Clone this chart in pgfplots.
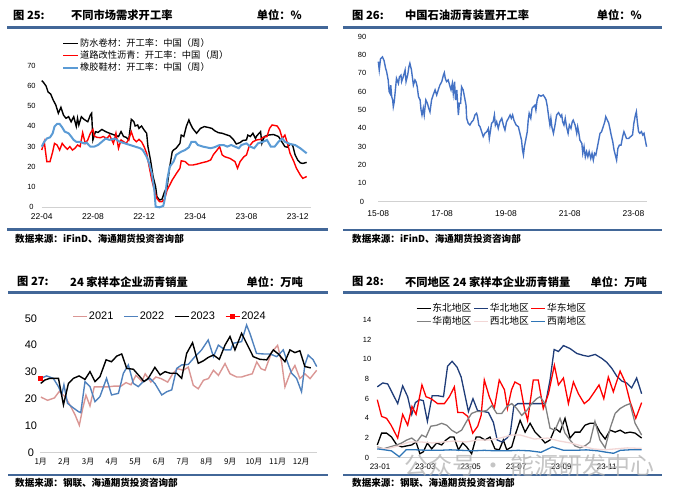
\documentclass[border=0pt]{standalone}
\usepackage{pgfplots}
\pgfplotsset{compat=1.18}
\usepackage{fontspec}
\setmainfont{Liberation Sans}
\newfontfamily\cjk{Noto Sans CJK SC}
\definecolor{sepblue}{RGB}{66,103,152}
\definecolor{lblue}{RGB}{91,155,213}
\definecolor{mblue}{RGB}{68,114,196}
\definecolor{pink21}{RGB}{218,150,148}
\definecolor{blue22}{RGB}{79,129,189}
\definecolor{navy}{RGB}{31,60,120}
\definecolor{swblue}{RGB}{46,117,182}
\definecolor{nwpink}{RGB}{242,215,214}
\newcommand\fs[1]{\fontsize{#1}{#1}\selectfont}
\pgfplotsset{
  base/.style={scale only axis, clip=false, enlargelimits=false,
    axis x line*=bottom, axis y line*=left,
    y axis line style={draw=none},
    x axis line style={draw=black!18, line width=0.8bp},
    major tick length=0pt, tick style={draw=none},
    /pgf/number format/assume math mode=true,
    /pgf/number format/1000 sep={},
    legend cell align=left,
  },
}
\begin{document}
\begin{tikzpicture}
\path[use as bounding box] (0,0) rectangle (700bp,-503bp);
% ---------- separators
\draw[sepblue, line width=2.7bp] (7bp,-27.3bp) -- (328bp,-27.3bp);
\draw[sepblue, line width=2.7bp] (7bp,-229.3bp) -- (328bp,-229.3bp);
\draw[sepblue, line width=2.7bp] (343bp,-27.7bp) -- (662bp,-27.7bp);
\draw[sepblue, line width=2.7bp] (343bp,-230bp) -- (662bp,-230bp);
\draw[sepblue, line width=2.7bp] (8bp,-292.3bp) -- (328bp,-292.3bp);
\draw[sepblue, line width=2.7bp] (8bp,-475bp) -- (328bp,-475bp);
\draw[sepblue, line width=2.7bp] (343bp,-292.3bp) -- (662bp,-292.3bp);
\draw[sepblue, line width=2.7bp] (343bp,-475bp) -- (662bp,-475bp);
% ---------- titles
\begin{scope}[every node/.style={inner sep=0pt, font=\cjk\bfseries\fs{11.3}}]
\node[anchor=west] at (13bp,-15bp) {图 25:};
\node[anchor=west] at (71bp,-15bp) {不同市场需求开工率};
\node[anchor=east] at (302bp,-15bp) {单位：\%};
\node[anchor=west] at (352bp,-15bp) {图 26:};
\node[anchor=west] at (405bp,-15bp) {中国石油沥青装置开工率};
\node[anchor=east] at (642bp,-15bp) {单位：\%};
\node[anchor=west] at (17bp,-281.7bp) {图 27:};
\node[anchor=west] at (70bp,-281.7bp) {24 家样本企业沥青销量};
\node[anchor=east] at (303bp,-281.7bp) {单位：万吨};
\node[anchor=west] at (352bp,-281.7bp) {图 28:};
\node[anchor=west] at (405bp,-281.7bp) {不同地区 24 家样本企业沥青销量};
\node[anchor=east] at (647bp,-281.7bp) {单位：万吨};
\end{scope}
\begin{scope}[every node/.style={inner sep=0pt, font=\cjk\bfseries\fs{9.6}}]
\node[anchor=west] at (15bp,-239.3bp) {数据来源：iFinD、海通期货投资咨询部};
\node[anchor=west] at (352bp,-239.3bp) {数据来源：iFinD、海通期货投资咨询部};
\node[anchor=west] at (15bp,-483.3bp) {数据来源：钢联、海通期货投资咨询部};
\node[anchor=west] at (352bp,-483.3bp) {数据来源：钢联、海通期货投资咨询部};
\end{scope}
% ================= Panel 1
\begin{axis}[base, at={(41.7bp,-207.3bp)}, anchor=south west, width=268.8bp, height=141.6bp,
  xmin=0, xmax=21, ymin=0, ymax=70,
  xtick={0,4,8,12,16,20}, xticklabels={22-04,22-08,22-12,23-04,23-08,23-12},
  ytick={0,10,...,70},
  yticklabel style={anchor=center, xshift=-10.2bp, font=\fs{7.5}},
  xticklabel style={anchor=center, yshift=-9.4bp, font=\fs{8.5}},
  legend style={draw=none, fill=none, at={(axis description cs:0.075,1.197)}, anchor=north west,
    font=\cjk\fs{9.3}, inner sep=0pt, row sep=0.5bp, nodes={inner sep=1bp}},
  legend image code/.code={\draw[#1] (0bp,0bp) -- (15bp,0bp);},
]
\addplot[black, line width=1.4bp] coordinates {
(0,62.6)(0.13,61.8)(0.34,60)(0.5,57)(0.7,56)(0.9,53)(1.1,50.6)(1.3,46.5)(1.5,49.4)(1.7,45.6)(1.9,44)(2.1,44.8)(2.3,42.3)(2.5,44.8)(2.7,40)(2.8,44)(2.9,40.7)(3.1,44.8)(3.3,43.5)(3.6,42.3)(3.8,45.6)(3.9,46.5)(4.0,33.3)(4.2,37.4)(4.4,37)(4.7,38.5)(5.0,37.4)(5.3,36.6)(5.7,35.7)(6.0,35)(6.2,37.4)(6.4,35)(6.6,34.6)(6.8,33.3)(7.0,43.5)(7.2,42.3)(7.3,40.2)(7.5,40.7)(7.6,39)(7.8,40.2)(8.0,38.2)(8.2,36.6)(8.3,30)(8.5,23.4)(8.7,15.2)(8.9,10.2)(9.0,5.3)(9.2,3.6)(9.4,4)(9.6,7.7)(9.8,10.2)(10.0,20)(10.2,27.5)(10.3,28.3)(10.5,29.2)(10.8,31.6)(10.9,35.7)(11.1,35)(11.3,40)(11.5,43.2)(11.6,41.5)(11.8,39)(12.1,36.6)(12.4,39)(12.7,39.9)(13.0,39.5)(13.3,39)(13.5,37.9)(13.8,36.9)(14.1,36.6)(14.5,35.7)(14.7,35.3)(15.0,33.3)(15.2,31.3)(15.5,32)(15.7,33)(16.0,33.3)(16.1,35.7)(16.3,35)(16.5,36.6)(16.7,34)(16.8,35.3)(17.1,37.4)(17.2,31.6)(17.4,35)(17.7,35.7)(18.1,36)(18.5,35)(18.8,32)(19.0,30)(19.2,29.7)(19.4,31.3)(19.6,30.8)(19.8,25.9)(20.0,23.4)(20.2,22)(20.4,21.7)(20.7,22.2)};
\addlegendentry{防水卷材：开工率：中国（周）}
\addplot[red, line width=1.4bp] coordinates {
(0,28.3)(0.2,32.4)(0.4,22.6)(0.65,22.6)(0.86,27.5)(1.0,31.6)(1.2,30.8)(1.4,28.3)(1.6,31.6)(1.8,30)(2.0,28.7)(2.2,30)(2.4,28.3)(2.6,29.2)(2.8,30.8)(3.0,30)(3.2,36.9)(3.4,31.6)(3.6,33.3)(3.8,36.6)(4.0,38.5)(4.1,35.3)(4.3,34.6)(4.6,34.4)(4.8,35)(5.1,34)(5.3,35.7)(5.6,31.6)(5.8,36.6)(6.0,29.2)(6.2,33.3)(6.4,32.4)(6.6,31.6)(6.8,33.6)(7.0,37.4)(7.2,33.6)(7.4,32.4)(7.6,33.6)(7.8,32.4)(8.0,30)(8.2,26.7)(8.4,20)(8.6,13.5)(8.8,8.6)(9.0,4.4)(9.2,2.8)(9.4,2.8)(9.6,4)(9.8,8.6)(10.0,11)(10.2,13.5)(10.5,16.5)(10.8,19.3)(10.9,23)(11.2,22.6)(11.5,20.9)(11.8,20.9)(12.1,21.3)(12.5,22)(12.9,22.6)(13.2,23.4)(13.4,25.9)(13.7,28.3)(13.9,30)(14.1,25.9)(14.3,25)(14.7,24.2)(14.9,23.4)(15.1,22.6)(15.3,19.3)(15.5,22.6)(15.8,25)(16.0,25.9)(16.2,30)(16.5,32.4)(16.8,33.3)(17.1,33.6)(17.3,34.6)(17.6,35)(17.8,39)(18.0,40.7)(18.4,40.2)(18.6,38.2)(18.8,34)(19.0,35.7)(19.2,31.6)(19.4,26.7)(19.7,22.6)(19.9,19.3)(20.2,16)(20.4,14.3)(20.7,15.2)};
\addlegendentry{道路改性沥青：开工率：中国（周）}
\addplot[lblue, line width=2bp] coordinates {
(0,30)(0.2,32.4)(0.4,34)(0.65,34.6)(0.86,36.6)(1.0,39.9)(1.2,41.2)(1.4,41.2)(1.6,39.5)(1.8,37.4)(2.1,36.6)(2.3,35)(2.5,33.3)(2.7,32.4)(3.0,32.4)(3.3,31.6)(3.5,32)(3.8,30)(4.1,30)(4.4,30.8)(4.7,32.4)(5.0,34)(5.3,33.3)(5.7,34)(6.1,32.4)(6.5,31.6)(6.9,30.8)(7.3,30)(7.7,29.2)(7.9,28.3)(8.2,25)(8.4,21.7)(8.6,16.8)(8.8,8.6)(8.9,0.3)(9.2,0)(9.5,0.7)(9.6,3.6)(9.8,13.5)(10.0,20)(10.3,22.6)(10.5,25.9)(10.9,27.5)(11.2,28.3)(11.5,29.7)(11.7,32.4)(12.0,32.4)(12.2,30.8)(12.6,30)(13.2,29.2)(13.5,29.7)(13.9,30.8)(14.2,30.8)(14.5,30)(14.8,30.8)(15.1,30)(15.4,29.2)(15.6,30.8)(16.0,31.6)(16.3,30)(16.6,29.2)(16.9,31.6)(17.3,32.4)(17.6,33.3)(17.9,30)(18.2,30)(18.5,32.4)(18.8,34)(19.0,32.4)(19.4,31.3)(19.8,30.8)(20.2,29.2)(20.7,26.7)};
\addlegendentry{橡胶鞋材：开工率：中国（周）}
\end{axis}
% ================= Panel 2
\begin{axis}[base, at={(378.3bp,-201.7bp)}, anchor=south west, width=268.6bp, height=165bp,
  xmin=0, xmax=8.42, ymin=0, ymax=90,
  xtick={0,2,4,6,8}, xticklabels={15-08,17-08,19-08,21-08,23-08},
  ytick={0,10,...,90},
  yticklabel style={anchor=center, xshift=-16.3bp, font=\fs{7.5}},
  xticklabel style={anchor=center, yshift=-11.6bp, font=\fs{8.5}},
]
\addplot[mblue, line width=1.4bp] coordinates {
(0,76.4)(0.03,71.8)(0.07,78)(0.13,79)(0.18,77)(0.23,72.7)(0.26,71)(0.31,66.4)(0.34,60)(0.37,59)(0.39,63.6)(0.42,57.3)(0.45,55.5)(0.47,51.8)(0.5,54.5)(0.54,61.8)(0.57,67.3)(0.63,64.5)(0.66,68)(0.71,69)(0.73,65.5)(0.78,68)(0.84,71.8)(0.87,65.5)(0.92,69)(0.96,73.6)(0.99,75.5)(1.04,71.8)(1.1,63.6)(1.15,66.4)(1.18,65.5)(1.22,62.7)(1.26,57.3)(1.31,55.5)(1.34,50)(1.37,47.3)(1.41,51)(1.44,47.3)(1.49,55.5)(1.54,53.6)(1.58,51)(1.62,49)(1.67,55.5)(1.72,58.2)(1.78,61)(1.83,58.2)(1.88,61)(1.93,63.6)(1.99,65.5)(2.04,69)(2.07,70.4)(2.1,67.3)(2.14,65.5)(2.19,66.4)(2.25,62.7)(2.28,61)(2.32,64.5)(2.35,59)(2.39,65.5)(2.42,55.5)(2.46,61)(2.51,47.3)(2.54,53.6)(2.58,53.6)(2.61,62.7)(2.66,61)(2.71,56.4)(2.75,52.7)(2.77,45.5)(2.82,42.7)(2.87,41.8)(2.93,43.6)(2.98,44.5)(3.03,47.3)(3.08,48.2)(3.11,46.4)(3.15,41.8)(3.19,40.9)(3.24,38.2)(3.29,35.5)(3.34,37.3)(3.4,38.2)(3.45,40)(3.48,34.5)(3.52,39.1)(3.55,42.7)(3.6,43.6)(3.64,47.3)(3.67,41.8)(3.71,43.6)(3.76,40)(3.81,43.6)(3.87,45.5)(3.92,41.8)(3.97,39.1)(4.02,43.6)(4.08,45.5)(4.13,47.3)(4.17,45.5)(4.21,47.3)(4.25,44.5)(4.32,41.8)(4.39,40.9)(4.44,37.3)(4.49,33.6)(4.52,28.2)(4.55,25.5)(4.58,30)(4.62,33.6)(4.67,38.2)(4.7,44.5)(4.73,48.2)(4.78,45.5)(4.82,51)(4.86,51.8)(4.91,52.7)(4.94,50)(4.98,55.5)(5.03,58.2)(5.1,57.6)(5.17,58.2)(5.22,56.9)(5.26,55.5)(5.3,51.8)(5.34,46.4)(5.38,41.8)(5.41,45.5)(5.44,40.9)(5.49,37.3)(5.54,41.8)(5.59,47.3)(5.65,48.6)(5.72,46.4)(5.75,47.3)(5.78,43.6)(5.82,41.8)(5.86,45.5)(5.9,40.9)(5.95,37.3)(5.99,41.8)(6.04,40)(6.08,43.6)(6.11,44.5)(6.17,41.8)(6.22,37.3)(6.25,40.9)(6.28,38.2)(6.32,33.6)(6.38,31.8)(6.41,26.4)(6.45,30)(6.49,24.5)(6.53,27.3)(6.57,24.5)(6.61,27.3)(6.66,23.6)(6.7,26.4)(6.74,22.7)(6.78,26.4)(6.82,25.5)(6.87,30)(6.91,33.6)(6.95,37.3)(7.0,38.2)(7.05,40.9)(7.1,43.6)(7.13,46.4)(7.18,44.5)(7.22,43.1)(7.26,40)(7.3,36.4)(7.35,32.7)(7.39,28.2)(7.43,25.5)(7.47,22.7)(7.51,29.1)(7.56,30.9)(7.61,30.9)(7.66,35.5)(7.7,38.2)(7.74,36.4)(7.78,34.5)(7.85,34.5)(7.91,35.5)(7.97,36.4)(8.01,42.7)(8.06,47.3)(8.09,49.1)(8.12,43.6)(8.16,38.2)(8.2,37.3)(8.25,38.2)(8.29,36.4)(8.33,37.3)(8.37,33.6)(8.41,30)};
\end{axis}
% ================= Panel 3
\begin{axis}[base, at={(40bp,-452.3bp)}, anchor=south west, width=276.7bp, height=134bp,
  xmin=0.97, xmax=12.65, ymin=0, ymax=50,
  xtick={1,...,12}, xticklabels={1月,2月,3月,4月,5月,6月,7月,8月,9月,10月,11月,12月},
  ytick={0,10,...,50},
  yticklabel style={anchor=center, xshift=-9bp, font=\fs{11}},
  xticklabel style={anchor=center, yshift=-9.4bp, font=\cjk\fs{8}},
  legend columns=4,
  legend style={draw=none, fill=none, at={(axis description cs:0.117,1.012)}, anchor=west,
    font=\fs{11}, inner sep=0pt, nodes={inner sep=1bp},
    /tikz/every even column/.append style={column sep=9bp}},
  legend image code/.code={\draw[mark repeat=2,mark phase=2,#1] plot coordinates {(0bp,0bp) (7bp,0bp) (14bp,0bp)};},
]
\addplot[pink21, line width=1.4bp] coordinates {
(1.01,20.6)(1.29,19.4)(1.58,20.3)(1.79,22.8)(2.04,20.6)(2.28,16.9)(2.46,13.8)(2.63,10.1)(2.77,16.3)(2.91,21.3)(3.08,17.3)(3.26,24.4)(3.59,24.4)(3.83,24.4)(4.1,24.7)(4.39,24.7)(4.6,26)(4.81,25.2)(5.02,28.7)(5.27,26.5)(5.41,29.3)(5.65,26.2)(5.86,28.1)(6.08,27.5)(6.36,26.2)(6.57,29.3)(6.78,31.2)(7.02,30.6)(7.23,31.8)(7.44,25)(7.65,23.7)(7.87,26.9)(8.08,27.5)(8.29,30.6)(8.5,28.7)(8.78,33.1)(8.99,29.3)(9.27,28.1)(9.48,28.1)(9.69,28.7)(9.93,29.3)(10.12,33.7)(10.3,31.2)(10.47,30.6)(10.75,37.4)(11.0,39.9)(11.17,33.7)(11.31,24.4)(11.52,29.3)(11.73,32.4)(11.94,27.5)(12.15,29.3)(12.37,27.5)(12.65,30.6)};
\addlegendentry{2021}
\addplot[blue22, line width=1.4bp] coordinates {
(1.0,27.6)(1.25,28.5)(1.53,27.6)(1.75,24.5)(1.89,21.5)(1.98,25.2)(2.13,18.3)(2.31,17)(2.59,15.2)(2.69,14.8)(2.87,26.4)(3.08,24.5)(3.29,18.9)(3.5,20.8)(3.78,27.6)(3.99,21.4)(4.28,22)(4.49,29.5)(4.7,32.6)(4.91,25.7)(5.12,24.5)(5.33,26.4)(5.61,27.6)(5.82,25.7)(6.11,21.4)(6.32,22.6)(6.53,23.3)(6.74,31.3)(6.95,32.6)(7.23,32.8)(7.51,35.7)(7.79,38.2)(8.07,41.9)(8.29,35.7)(8.5,40)(8.78,38.2)(9.02,38.2)(9.13,40.7)(9.48,41.3)(9.69,47.5)(9.83,44.4)(10.11,36.9)(10.4,36.7)(10.68,36.7)(10.96,35.7)(11.24,38.2)(11.38,34.5)(11.59,29.5)(11.8,27.6)(12.01,22.6)(12.15,32.6)(12.29,36.3)(12.5,34.5)(12.65,32)};
\addlegendentry{2022}
\addplot[black, line width=1.4bp] coordinates {
(1.0,25.7)(1.18,27)(1.39,27.6)(1.75,27.6)(1.96,17.7)(2.17,25.7)(2.38,27.6)(2.62,28.5)(2.87,27.2)(3.08,30.1)(3.29,26.4)(3.5,28.2)(3.76,34.5)(3.99,33.8)(4.21,35.9)(4.42,36.7)(4.63,31.3)(4.91,31)(5.19,28.2)(5.36,26.4)(5.54,27.6)(5.82,31.7)(6.04,28.9)(6.25,30.1)(6.46,29.5)(6.74,29.5)(6.95,27.6)(7.16,36.9)(7.41,40.9)(7.65,33.2)(7.86,34.1)(8.07,35.4)(8.29,36.3)(8.54,34.7)(8.78,40)(8.99,43.2)(9.2,38.2)(9.48,44.4)(9.69,40.7)(9.97,35.7)(10.25,34.7)(10.54,34.5)(10.82,38.2)(11.03,36.7)(11.31,33.8)(11.52,38.2)(11.73,37.2)(11.94,37.9)(12.15,32)(12.4,31.5)};
\addlegendentry{2023}
\addplot[red, line width=1.4bp, mark=square*, mark size=2bp] coordinates {(1.0,27.6)};
\addlegendentry{2024}
\end{axis}
% ================= Panel 4
\begin{axis}[base, at={(376.6bp,-457.7bp)}, anchor=south west, width=265.5bp, height=137.7bp,
  xmin=0.85, xmax=12.56, ymin=0, ymax=14,
  xtick={1,3,5,7,9,11}, xticklabels={23-01,23-03,23-05,23-07,23-09,23-11},
  ytick={0,2,...,14},
  yticklabel style={anchor=center, xshift=-9.6bp, font=\fs{7.5}},
  xticklabel style={anchor=center, yshift=-9bp, font=\fs{8}},
  legend columns=3,
  legend style={draw=none, fill=none, at={(axis description cs:0.148,1.13)}, anchor=north west,
    font=\cjk\fs{9.8}, inner sep=0pt, row sep=1.5bp, nodes={inner sep=1bp},
    /tikz/every even column/.append style={column sep=1bp}},
  legend image code/.code={\draw[#1] (0bp,0bp) -- (14bp,0bp);},
]
\addplot[black, line width=1.3bp] coordinates {
(0.88,1.3)(1.07,2.5)(1.29,2.5)(1.51,2.1)(1.74,1.3)(1.96,1.1)(2.18,1.2)(2.4,1.3)(2.59,1.6)(2.76,0.4)(2.91,0.6)(3.09,1.5)(3.28,0.9)(3.5,1.5)(3.72,1.3)(3.91,1.8)(4.09,2.1)(4.26,2.1)(4.46,0.8)(4.65,1.5)(4.82,1.1)(5.04,0.4)(5.24,2.1)(5.41,2.1)(5.63,1.8)(5.85,2.1)(6.07,0.9)(6.26,0.8)(6.44,1.8)(6.59,0.8)(6.81,1.1)(6.96,2.3)(7.18,3.8)(7.4,2.6)(7.62,3.5)(7.84,2.6)(8.06,2.1)(8.28,1.5)(8.5,1.8)(8.72,3.0)(8.94,2.6)(9.16,4.0)(9.38,2.0)(9.6,2.6)(9.82,2.6)(10.04,3.3)(10.26,3.5)(10.49,3.5)(10.7,2.6)(10.93,1.9)(11.15,2.8)(11.37,2.6)(11.59,2.8)(11.81,2.5)(12.03,2.6)(12.25,2.5)(12.54,2.0)};
\addlegendentry{东北地区}
\addplot[navy, line width=1.3bp] coordinates {
(0.88,7.2)(1.12,7.6)(1.34,7.5)(1.56,6.5)(1.78,5.5)(2.0,7.3)(2.22,6.2)(2.4,4.4)(2.56,5.6)(2.74,5.9)(2.91,5.8)(3.09,3.7)(3.3,6.3)(3.55,6.3)(3.8,6.2)(3.98,9.3)(4.18,9.8)(4.4,9.2)(4.58,8.2)(4.78,6.0)(4.9,4.7)(5.1,6.0)(5.3,4.8)(5.56,4.7)(5.78,4.6)(6.0,3.6)(6.17,1.8)(6.38,1.6)(6.6,2.0)(6.74,2.4)(6.9,5.2)(7.08,5.5)(7.4,5.5)(7.76,5.5)(8.13,5.5)(8.3,5.5)(8.5,7.9)(8.68,11.0)(8.87,10.8)(9.09,11.4)(9.38,11.1)(9.68,10.6)(9.97,10.4)(10.19,10.3)(10.49,10.5)(10.78,10.1)(11.0,9.7)(11.22,9.1)(11.44,8.3)(11.66,7.8)(11.88,7.6)(12.1,7.1)(12.32,8.1)(12.54,6.5)};
\addlegendentry{华北地区}
\addplot[red, line width=1.3bp] coordinates {
(0.88,5.9)(1.07,4.2)(1.29,4.0)(1.49,3.3)(1.78,2.0)(2.0,4.4)(2.22,3.3)(2.41,5.2)(2.59,4.4)(2.85,7.4)(3.03,6.2)(3.25,6.0)(3.54,5.5)(3.84,5.5)(4.06,6.2)(4.28,7.2)(4.43,4.6)(4.65,4.6)(4.87,4.2)(5.09,2.5)(5.31,3.2)(5.46,4.3)(5.6,7.9)(5.82,6.2)(6.04,5.0)(6.26,7.9)(6.49,6.9)(6.62,5.0)(6.8,6.9)(6.95,7.7)(7.18,7.4)(7.37,5.0)(7.51,3.8)(7.76,7.9)(7.98,7.9)(8.2,5.0)(8.43,6.5)(8.69,9.4)(8.87,7.4)(9.09,8.1)(9.31,5.5)(9.53,7.7)(9.75,6.5)(10.01,5.5)(10.22,5.9)(10.46,6.7)(10.66,7.4)(10.87,6.0)(11.07,8.2)(11.29,6.7)(11.59,8.8)(11.81,7.7)(12.03,5.7)(12.28,4.0)(12.54,5.6)};
\addlegendentry{华东地区}
\addplot[gray, line width=1.3bp] coordinates {
(0.88,1.1)(1.15,0.9)(1.44,1.1)(1.74,1.3)(1.96,1.5)(2.18,1.8)(2.4,2.0)(2.62,1.6)(2.84,2.3)(3.03,2.1)(3.24,3.2)(3.5,3.3)(3.72,3.5)(3.94,3.3)(4.16,2.8)(4.38,2.5)(4.6,2.8)(4.82,3.7)(5.04,4.5)(5.26,4.7)(5.49,4.7)(5.71,4.8)(5.93,5.3)(6.15,4.5)(6.37,4.5)(6.59,5.2)(6.81,5.5)(7.03,5.0)(7.25,4.3)(7.47,4.8)(7.69,5.5)(7.91,6.0)(8.06,6.2)(8.28,5.5)(8.5,3.0)(8.72,2.8)(8.94,4.0)(9.16,2.5)(9.38,1.8)(9.6,1.2)(9.82,1.0)(10.04,1.2)(10.26,1.6)(10.48,3.7)(10.7,1.8)(10.93,1.0)(11.15,3.0)(11.37,4.5)(11.59,5.0)(11.81,5.3)(12.03,5.5)(12.25,3.5)(12.54,2.3)};
\addlegendentry{华南地区}
\addplot[nwpink, line width=1.3bp] coordinates {
(0.88,1.0)(1.3,0.9)(1.8,1.2)(2.3,1.6)(2.8,1.6)(3.3,1.5)(3.8,1.6)(4.3,1.7)(4.8,1.6)(5.3,1.8)(5.8,1.8)(6.3,2.0)(6.8,2.3)(7.2,2.3)(7.8,1.9)(8.4,2.0)(8.9,1.7)(9.4,1.5)(9.9,1.2)(10.4,0.9)(10.9,0.8)(11.4,0.9)(11.9,1.0)(12.54,0.95)};
\addlegendentry{西北地区}
\addplot[swblue, line width=1.3bp] coordinates {
(0.88,0.9)(1.2,0.8)(1.5,0.7)(1.85,0.1)(2.15,0.8)(2.6,0.8)(3.1,0.75)(3.6,0.75)(4.1,0.8)(4.6,0.75)(5.1,0.7)(5.6,0.75)(6.1,0.7)(6.6,0.7)(7.1,0.75)(7.6,0.7)(8.1,0.55)(8.6,1.1)(9.1,0.75)(9.6,0.75)(10.1,0.8)(10.6,0.7)(11.0,0.55)(11.3,0.45)(11.6,0.75)(12.0,0.8)(12.54,0.8)};
\addlegendentry{西南地区}
\end{axis}
% watermark
\node[anchor=west, inner sep=0pt, text=black!30, opacity=0.75, font=\cjk\fs{24}] at (404bp,-465bp) {公众号 · 能源研发中心};
\end{tikzpicture}
\end{document}
